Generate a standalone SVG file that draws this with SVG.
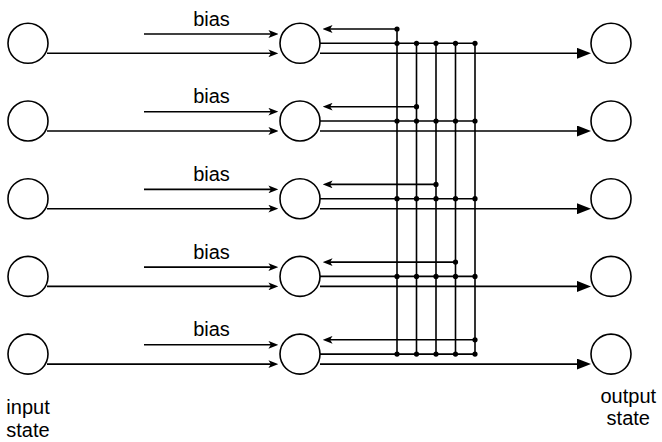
<svg xmlns="http://www.w3.org/2000/svg" width="662" height="442" viewBox="0 0 662 442">
<style>
.node{fill:#fff;stroke:#000;stroke-width:1.6}
.ln{fill:none;stroke:#000;stroke-width:1.6}
.dot{fill:#000}
.t{font-family:"Liberation Sans",Arial,sans-serif;font-size:20px;fill:#000;text-anchor:middle}
</style>
<defs>
<marker id="cl" markerUnits="userSpaceOnUse" markerWidth="10" markerHeight="8" viewBox="0 0 9 7" refX="5" refY="3.5" orient="auto">
<path d="M0,0 L9,3.5 L0,7 L2.2,3.5 Z" fill="#000"/>
</marker>
<marker id="bk" markerUnits="userSpaceOnUse" markerWidth="14" markerHeight="11" viewBox="0 0 14 11" refX="7" refY="5.5" orient="auto">
<path d="M0,0 L14,5.5 L0,11 Z" fill="#000"/>
</marker>
</defs>
<g id="connectors">
<!-- bias arrows -->
<path class="ln" d="M144,34 H274" marker-end="url(#cl)"/>
<path class="ln" d="M144,111.7 H274" marker-end="url(#cl)"/>
<path class="ln" d="M144,189.4 H274" marker-end="url(#cl)"/>
<path class="ln" d="M144,267.1 H274" marker-end="url(#cl)"/>
<path class="ln" d="M144,344.8 H274" marker-end="url(#cl)"/>
<!-- input arrows -->
<path class="ln" d="M47,53.3 H274" marker-end="url(#cl)"/>
<path class="ln" d="M47,131 H274" marker-end="url(#cl)"/>
<path class="ln" d="M47,208.7 H274" marker-end="url(#cl)"/>
<path class="ln" d="M47,286.4 H274" marker-end="url(#cl)"/>
<path class="ln" d="M47,364.1 H274" marker-end="url(#cl)"/>
<!-- output arrows -->
<path class="ln" d="M320,53.3 H584" marker-end="url(#bk)"/>
<path class="ln" d="M320,131 H584" marker-end="url(#bk)"/>
<path class="ln" d="M320,208.7 H584" marker-end="url(#bk)"/>
<path class="ln" d="M320,286.4 H584" marker-end="url(#bk)"/>
<path class="ln" d="M320,364.1 H584" marker-end="url(#bk)"/>
<!-- center lines to bus -->
<path class="ln" d="M320,43.3 H475"/>
<path class="ln" d="M320,121 H475"/>
<path class="ln" d="M320,198.7 H475"/>
<path class="ln" d="M320,276.4 H475"/>
<path class="ln" d="M320,354.1 H475"/>
<!-- bus verticals -->
<path class="ln" d="M397,29 V354.1"/>
<path class="ln" d="M416.5,43.3 V354.1"/>
<path class="ln" d="M436,43.3 V354.1"/>
<path class="ln" d="M455.5,43.3 V354.1"/>
<path class="ln" d="M475,43.3 V354.1"/>
<!-- feedback arrows -->
<path class="ln" d="M397,29 H327" marker-end="url(#cl)"/>
<path class="ln" d="M416.5,106.7 H327" marker-end="url(#cl)"/>
<path class="ln" d="M436,184.4 H327" marker-end="url(#cl)"/>
<path class="ln" d="M455.5,262.1 H327" marker-end="url(#cl)"/>
<path class="ln" d="M475,339.8 H327" marker-end="url(#cl)"/>
<!-- junction dots -->
<g class="dot">
<circle cx="397" cy="29" r="2.6"/>
<circle cx="416.5" cy="106.7" r="2.6"/>
<circle cx="436" cy="184.4" r="2.6"/>
<circle cx="455.5" cy="262.1" r="2.6"/>
<circle cx="475" cy="339.8" r="2.6"/>
<circle cx="397" cy="43.3" r="2.6"/><circle cx="416.5" cy="43.3" r="2.6"/><circle cx="436" cy="43.3" r="2.6"/><circle cx="455.5" cy="43.3" r="2.6"/><circle cx="475" cy="43.3" r="2.6"/>
<circle cx="397" cy="121" r="2.6"/><circle cx="416.5" cy="121" r="2.6"/><circle cx="436" cy="121" r="2.6"/><circle cx="455.5" cy="121" r="2.6"/><circle cx="475" cy="121" r="2.6"/>
<circle cx="397" cy="198.7" r="2.6"/><circle cx="416.5" cy="198.7" r="2.6"/><circle cx="436" cy="198.7" r="2.6"/><circle cx="455.5" cy="198.7" r="2.6"/><circle cx="475" cy="198.7" r="2.6"/>
<circle cx="397" cy="276.4" r="2.6"/><circle cx="416.5" cy="276.4" r="2.6"/><circle cx="436" cy="276.4" r="2.6"/><circle cx="455.5" cy="276.4" r="2.6"/><circle cx="475" cy="276.4" r="2.6"/>
<circle cx="397" cy="354.1" r="2.6"/><circle cx="416.5" cy="354.1" r="2.6"/><circle cx="436" cy="354.1" r="2.6"/><circle cx="455.5" cy="354.1" r="2.6"/><circle cx="475" cy="354.1" r="2.6"/>
</g>
<!-- bias labels -->
<text class="t" x="211.5" y="25.5">bias</text>
<text class="t" x="211.5" y="103.2">bias</text>
<text class="t" x="211.5" y="180.9">bias</text>
<text class="t" x="211.5" y="258.6">bias</text>
<text class="t" x="211.5" y="336.3">bias</text>
</g>
<g id="in1"><circle class="node" cx="28" cy="43.3" r="20"/></g>
<g id="in2"><circle class="node" cx="28" cy="121" r="20"/></g>
<g id="in3"><circle class="node" cx="28" cy="198.7" r="20"/></g>
<g id="in4"><circle class="node" cx="28" cy="276.4" r="20"/></g>
<g id="in5"><circle class="node" cx="28" cy="354.1" r="20"/>
<text class="t" x="28" y="414">input</text><text class="t" x="28" y="436.5">state</text></g>
<g id="n1"><circle class="node" cx="300" cy="43.3" r="20"/></g>
<g id="n2"><circle class="node" cx="300" cy="121" r="20"/></g>
<g id="n3"><circle class="node" cx="300" cy="198.7" r="20"/></g>
<g id="n4"><circle class="node" cx="300" cy="276.4" r="20"/></g>
<g id="n5"><circle class="node" cx="300" cy="354.1" r="20"/></g>
<g id="out1"><circle class="node" cx="611" cy="43.3" r="20"/></g>
<g id="out2"><circle class="node" cx="611" cy="121" r="20"/></g>
<g id="out3"><circle class="node" cx="611" cy="198.7" r="20"/></g>
<g id="out4"><circle class="node" cx="611" cy="276.4" r="20"/></g>
<g id="out5"><circle class="node" cx="611" cy="354.1" r="20"/>
<text class="t" x="628.3" y="403">output</text><text class="t" x="628.3" y="425">state</text></g>
</svg>
